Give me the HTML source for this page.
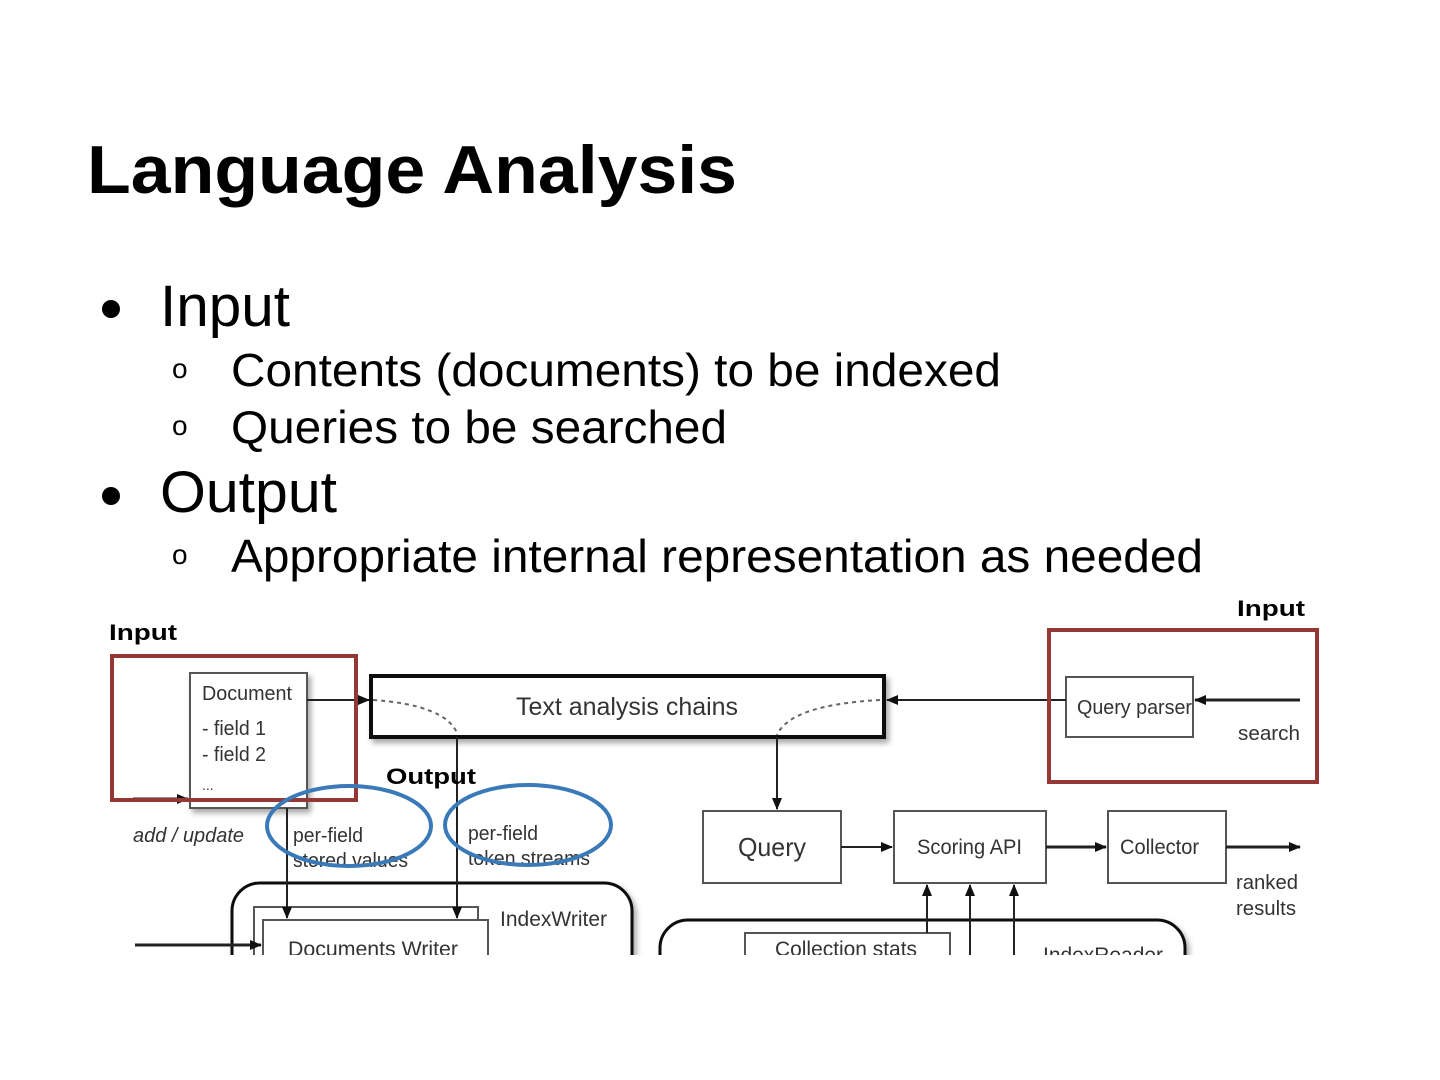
<!DOCTYPE html>
<html><head><style>html,body{margin:0;padding:0;background:#fff;}svg{display:block}</style></head>
<body>
<svg width="1440" height="1080" viewBox="0 0 1440 1080" xmlns="http://www.w3.org/2000/svg" font-family="Liberation Sans, sans-serif">
<defs>
<marker id="a" markerWidth="12" markerHeight="10" refX="11" refY="5" orient="auto" markerUnits="userSpaceOnUse"><path d="M0,0 L12,5 L0,10 z" fill="#111"/></marker>
<filter id="sh" x="-10%" y="-10%" width="130%" height="140%"><feDropShadow dx="3" dy="4" stdDeviation="3" flood-color="#000" flood-opacity="0.35"/></filter>
</defs>
<text x="87" y="193" font-size="68" font-weight="bold" textLength="650" lengthAdjust="spacingAndGlyphs">Language Analysis</text>
<circle cx="111" cy="309" r="9" fill="#000"/>
<text x="160" y="326" font-size="58" textLength="130" lengthAdjust="spacingAndGlyphs">Input</text>
<text x="172" y="378" font-size="28">o</text>
<text x="231" y="386" font-size="46" textLength="770" lengthAdjust="spacingAndGlyphs">Contents (documents) to be indexed</text>
<text x="172" y="435" font-size="28">o</text>
<text x="231" y="443" font-size="46" textLength="496" lengthAdjust="spacingAndGlyphs">Queries to be searched</text>
<circle cx="111" cy="496" r="9" fill="#000"/>
<text x="160" y="512" font-size="58" textLength="177" lengthAdjust="spacingAndGlyphs">Output</text>
<text x="172" y="564" font-size="28">o</text>
<text x="231" y="572" font-size="46" textLength="972" lengthAdjust="spacingAndGlyphs">Appropriate internal representation as needed</text>

<text x="1237" y="616" font-size="22" font-weight="bold" textLength="68" lengthAdjust="spacingAndGlyphs">Input</text>
<text x="109" y="640" font-size="22" font-weight="bold" textLength="68" lengthAdjust="spacingAndGlyphs">Input</text>

<g fill="#fff" stroke="#555" stroke-width="2">
<rect x="190" y="673" width="117" height="135" filter="url(#sh)"/>
<rect x="371" y="676" width="513" height="61" stroke="#111" stroke-width="4" filter="url(#sh)"/>
<rect x="1066" y="677" width="127" height="60"/>
<rect x="703" y="811" width="138" height="72"/>
<rect x="894" y="811" width="152" height="72"/>
<rect x="1108" y="811" width="118" height="72"/>
<rect x="232" y="883" width="400" height="120" rx="28" stroke="#111" stroke-width="3" filter="url(#sh)"/>
<rect x="660" y="920" width="525" height="90" rx="28" stroke="#111" stroke-width="3" filter="url(#sh)"/>
<rect x="254" y="907" width="224" height="60"/>
<rect x="263" y="920" width="225" height="60"/>
<rect x="745" y="933" width="205" height="60"/>
</g>
<g fill="#333" font-size="20">
<text x="202" y="700" textLength="90" lengthAdjust="spacingAndGlyphs">Document</text>
<text x="202" y="735" textLength="64" lengthAdjust="spacingAndGlyphs">- field 1</text>
<text x="202" y="761" textLength="64" lengthAdjust="spacingAndGlyphs">- field 2</text>
<text x="202" y="790" font-size="14">...</text>
<text x="516" y="715" font-size="25" textLength="222" lengthAdjust="spacingAndGlyphs">Text analysis chains</text>
<text x="1077" y="714" font-size="20" textLength="115" lengthAdjust="spacingAndGlyphs">Query parser</text>
<text x="1238" y="740" textLength="62" lengthAdjust="spacingAndGlyphs">search</text>
<text x="738" y="856" font-size="26" textLength="68" lengthAdjust="spacingAndGlyphs">Query</text>
<text x="917" y="854" font-size="21" textLength="105" lengthAdjust="spacingAndGlyphs">Scoring API</text>
<text x="1120" y="854" font-size="21" textLength="79" lengthAdjust="spacingAndGlyphs">Collector</text>
<text x="1236" y="889" textLength="62" lengthAdjust="spacingAndGlyphs">ranked</text>
<text x="1236" y="915" textLength="60" lengthAdjust="spacingAndGlyphs">results</text>
<text x="133" y="842" font-style="italic" textLength="111" lengthAdjust="spacingAndGlyphs">add / update</text>
<text x="293" y="842" textLength="70" lengthAdjust="spacingAndGlyphs">per-field</text>
<text x="293" y="867" textLength="115" lengthAdjust="spacingAndGlyphs">stored values</text>
<text x="468" y="840" textLength="70" lengthAdjust="spacingAndGlyphs">per-field</text>
<text x="468" y="865" textLength="122" lengthAdjust="spacingAndGlyphs">token streams</text>
<text x="500" y="926" font-size="21" textLength="107" lengthAdjust="spacingAndGlyphs">IndexWriter</text>
<text x="288" y="956" font-size="21" textLength="170" lengthAdjust="spacingAndGlyphs">Documents Writer</text>
<text x="775" y="956" font-size="21" textLength="142" lengthAdjust="spacingAndGlyphs">Collection stats</text>
<text x="1043" y="962" font-size="21" textLength="120" lengthAdjust="spacingAndGlyphs">IndexReader</text>
</g>
<g stroke="#222" stroke-width="2" fill="none">
<line x1="307" y1="700" x2="369" y2="700" marker-end="url(#a)"/>
<path d="M373,700 Q445,705 457,733" stroke-dasharray="4,4" stroke="#666"/>
<line x1="457" y1="737" x2="457" y2="918" marker-end="url(#a)"/>
<line x1="287" y1="808" x2="287" y2="918" marker-end="url(#a)"/>
<line x1="133" y1="799" x2="188" y2="799" stroke-width="3" marker-end="url(#a)"/>
<line x1="1066" y1="700" x2="887" y2="700" marker-end="url(#a)"/>
<line x1="1300" y1="700" x2="1195" y2="700" stroke-width="3" marker-end="url(#a)"/>
<path d="M880,700 Q790,705 777,735" stroke-dasharray="4,4" stroke="#666"/>
<line x1="777" y1="737" x2="777" y2="809" marker-end="url(#a)"/>
<line x1="841" y1="847" x2="892" y2="847" marker-end="url(#a)"/>
<line x1="1046" y1="847" x2="1106" y2="847" stroke-width="3" marker-end="url(#a)"/>
<line x1="1226" y1="847" x2="1300" y2="847" stroke-width="3" marker-end="url(#a)"/>
<line x1="927" y1="933" x2="927" y2="885" marker-end="url(#a)"/>
<line x1="970" y1="960" x2="970" y2="885" marker-end="url(#a)"/>
<line x1="1014" y1="960" x2="1014" y2="885" marker-end="url(#a)"/>
<line x1="135" y1="945" x2="261" y2="945" stroke-width="3" marker-end="url(#a)"/>
</g>
<rect x="0" y="955" width="1440" height="125" fill="#fff"/>
<rect x="112" y="656" width="244" height="144" fill="none" stroke="#953735" stroke-width="4"/>
<rect x="1049" y="630" width="268" height="152" fill="none" stroke="#953735" stroke-width="4"/>
<text x="386" y="784" font-size="22" font-weight="bold" textLength="90" lengthAdjust="spacingAndGlyphs">Output</text>
<ellipse cx="349" cy="826" rx="82" ry="40" fill="none" stroke="#3a7ab8" stroke-width="4"/>
<ellipse cx="528" cy="825" rx="83" ry="40" fill="none" stroke="#3a7ab8" stroke-width="4"/>
</svg>
</body></html>
